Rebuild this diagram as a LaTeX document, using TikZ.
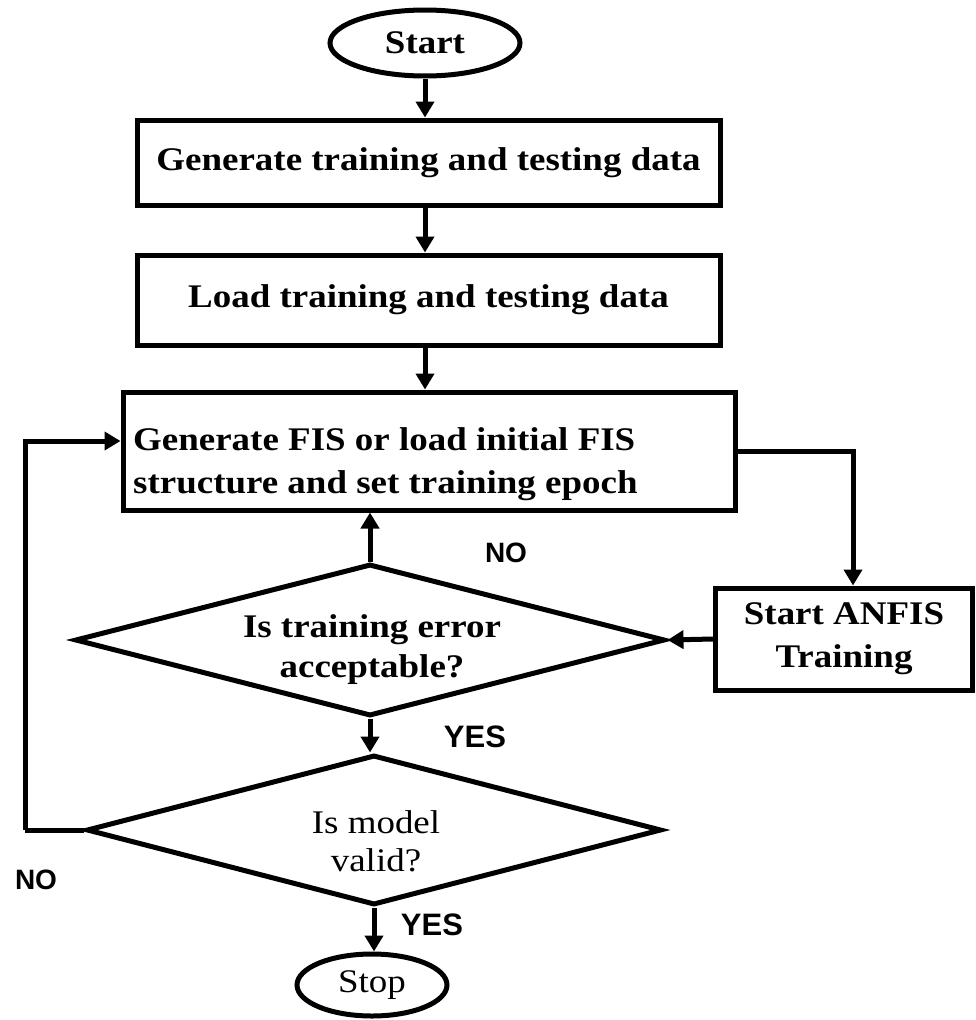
\documentclass[tikz,border=0pt]{standalone}
\usepackage{fontspec}
\setmainfont{Liberation Serif}
\newfontfamily\boxfont{Liberation Serif}[FakeStretch=1.12]
\newfontfamily\labelfont{Liberation Sans}
\usetikzlibrary{shapes.geometric,arrows.meta}

\begin{document}
\begin{tikzpicture}[x=1pt,y=-1pt,
  txt/.style={font=\boxfont\fontsize{33}{43}\selectfont\bfseries},
  thin txt/.style={font=\boxfont\fontsize{33}{38}\selectfont},
  procbox/.style={draw, line width=5pt, inner sep=0pt, txt, align=center},
  term/.style={draw, ellipse, line width=5pt, inner sep=0pt},
  decision/.style={draw, diamond, line width=5pt, inner sep=0pt},
  flow/.style={line width=5pt, -{Triangle[width=18pt,length=16pt]}},
  plain/.style={line width=5pt},
  tag/.style={font=\labelfont\fontsize{28}{30}\selectfont\bfseries},
  bigtag/.style={font=\labelfont\fontsize{31}{33}\selectfont\bfseries}]

\useasboundingbox (0,0) rectangle (975,1020);

% terminals
\node[term, minimum width=190pt, minimum height=66pt, txt] (start) at (425,43) {Start};
\node[term, minimum width=150pt, minimum height=62pt, thin txt] (stop) at (372,985) {Stop};

% process boxes
\node[procbox, minimum width=583pt, minimum height=85pt] (gen) at (428.5,162.5)
  {Generate training and testing data};
\node[procbox, minimum width=583pt, minimum height=90pt] (load) at (428.5,300)
  {Load training and testing data};
\node[procbox, minimum width=612pt, minimum height=118pt] (fis) at (429,451) {};
\node[txt, align=left, anchor=west, inner sep=0pt] (fistext) at (133,464)
  {Generate FIS or load initial FIS\\structure and set training epoch};
\node[procbox, minimum width=257pt, minimum height=102pt] (anfis) at (844,639)
  {Start ANFIS\\Training};

% decisions (outline and wording placed separately)
\node[decision, minimum width=590pt, minimum height=152pt] (err) at (370,640) {};
\node[txt, align=center, inner sep=0pt, font=\boxfont\fontsize{33}{40}\selectfont\bfseries]
  (errtext) at (372,650) {Is training error\\acceptable?};
\node[decision, minimum width=575pt, minimum height=150pt] (valid) at (374,830) {};
\node[thin txt, align=center, inner sep=0pt] (validtext) at (376,841) {Is model\\valid?};

% connectors
\draw[flow] (start.south) -- (start.south |- gen.north);
\draw[flow] (start.south |- gen.south) -- (start.south |- load.north);
\draw[flow] (start.south |- load.south) -- (start.south |- fis.north);
\draw[flow] (fis.east) -| ([xshift=9pt]anfis.north);
\draw[flow] (anfis.west) -- (err.east);
\draw[flow] (err.north) -- (err.north |- fis.south);
\draw[flow] (err.south) -- (err.south |- valid.north);
\draw[flow] (valid.south) -- (valid.south |- stop.north);
\coordinate (back) at (25,830);
\draw[plain] (valid.west) -- (back);
\draw[flow] (back) |- ([yshift=10pt]fis.west);

% branch labels
\node[tag] (no1) at (506,553) {NO};
\node[bigtag] (yes1) at (475,737) {YES};
\node[tag] (no2) at (36,880) {NO};
\node[bigtag] (yes2) at (432,925) {YES};
\end{tikzpicture}
\end{document}
